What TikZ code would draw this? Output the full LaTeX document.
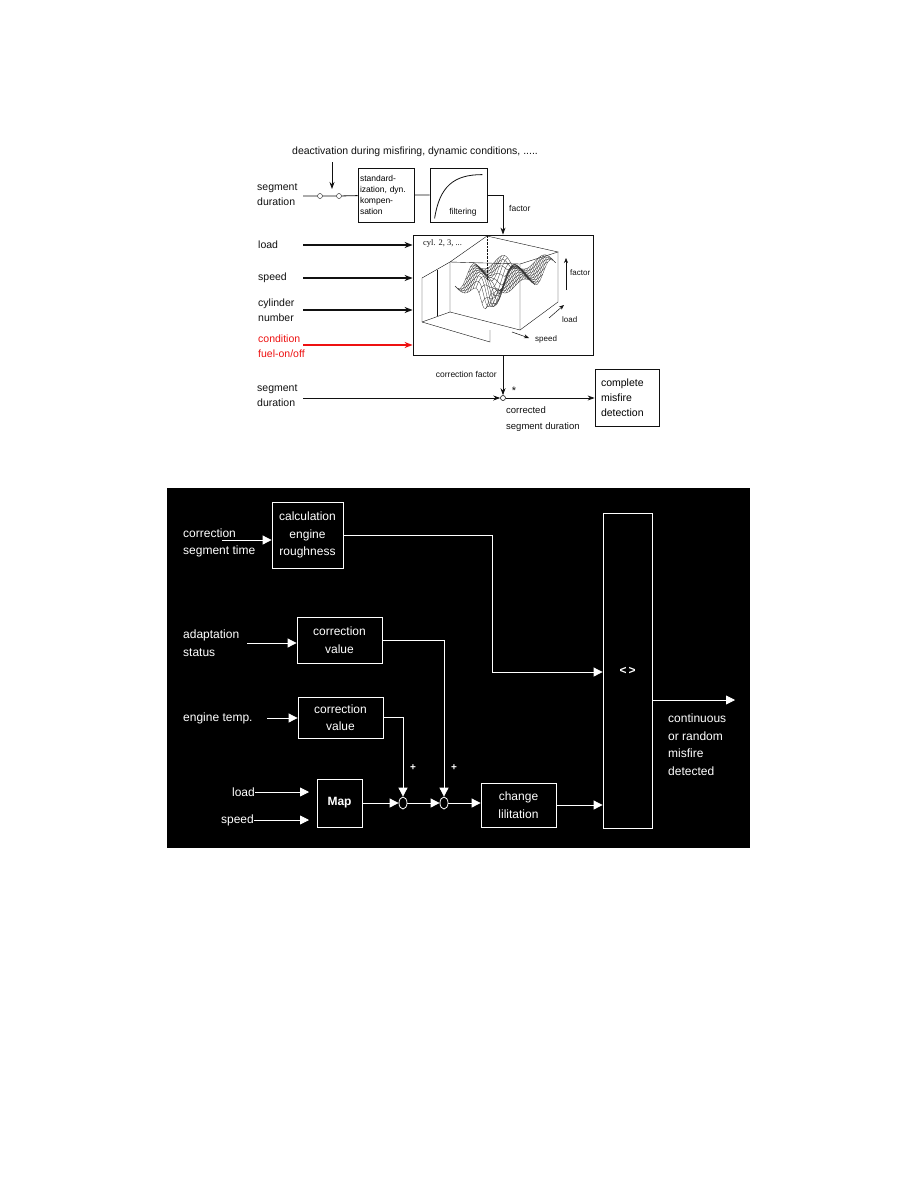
\documentclass[tikz,border=0pt]{standalone}
\usepackage{fontspec}
\setmainfont{Liberation Sans}
\newfontfamily\cylfont{Liberation Serif}
\usetikzlibrary{arrows.meta,positioning,calc,shapes.geometric}
\definecolor{ink}     {HTML}{111111}
\definecolor{condred} {HTML}{EE1111}
\definecolor{meshgray}{HTML}{333333}

\begin{document}
\begin{tikzpicture}[x=1pt,y=-1pt,font=\fontsize{10.5}{15}\selectfont,
    blk/.style={draw=ink,line width=0.8pt,inner sep=2pt},
    txt/.style={inner sep=0pt,align=left,text=ink},
    arr/.style={-{Stealth[length=7pt,width=5pt]},ink,line width=0.8pt},
    thickarr/.style={-{Stealth[length=8pt,width=6pt]},line width=1.5pt},
    wblk/.style={draw=white,line width=0.8pt,text=white,align=center,inner sep=0pt,
      font=\fontsize{12}{17.5}\selectfont},
    wtxt/.style={text=white,inner sep=0pt,align=left,font=\fontsize{12}{17.5}\selectfont},
    warr/.style={-{Triangle[length=9pt,width=9pt]},white,line width=0.8pt},
    sumpt/.style={ellipse,draw=white,line width=0.8pt,inner sep=0pt,minimum width=8,minimum height=12}]
  \useasboundingbox[fill=white] (0,0) rectangle (918,1188);

  % upper diagram
  \node[txt,anchor=west] (deact) at (292,152) {deactivation during misfiring, dynamic conditions, .....};
  \node[txt,anchor=west] (segdur) at (257,195) {segment\\duration};
  \coordinate (swin) at (303,196);
  \node[circle,draw=ink,inner sep=0pt,minimum size=5] (swa) at (320,196) {};
  \node[circle,draw=ink,inner sep=0pt,minimum size=5] (swb) at (339,196) {};
  \coordinate (swtop) at (332,162);
  \coordinate (swtip) at (332,189);
  \node[blk,minimum width=56,minimum height=54,text width=52,align=left,font=\fontsize{8.5}{11}\selectfont,inner sep=1.5pt] (stdz) at (386,195)
    {standard-\\ization, dyn.\\kompen-\\sation};
  \node[blk,minimum width=57,minimum height=54] (filt) at (458.5,195) {};
  \draw[ink,line width=0.8pt] ($(filt.south west)+(5,-4)$) .. controls ($(filt.south west)+(10,-36)$) and ($(filt.north west)+(24,7)$) .. ($(filt.north east)+(-5,7)$);
  \node[txt,font=\fontsize{8.5}{10}\selectfont] (filtlab) at (463,212) {filtering};
  \node[blk,minimum width=180,minimum height=120] (map) at (503,295) {};

  \draw[ink,line width=0.8pt] (swin) -- (swa) -- (swb) -- (stdz) -- (filt);
  \draw[arr] (swtop) -- (swtip);
  \draw[arr] (filt.east) -| (map.north);
  \node[txt,anchor=west,font=\fontsize{8.5}{10}\selectfont] (factlab) at (509,208) {factor};

  \node[txt,anchor=west] (ldlab) at (258,245) {load};
  \node[txt,anchor=west] (splab) at (258,278) {speed};
  \node[txt,anchor=west] (cyllab) at (258,310) {cylinder\\number};
  \node[txt,anchor=west,text=condred] (condlab) at (258,346) {condition\\fuel-on/off};
  \foreach \nm/\y/\col in {inld/245/ink,insp/278/ink,incyl/310/ink,incond/345/condred} {
    \coordinate (\nm) at (303,\y);
    \draw[thickarr,\col] (\nm) -- (\nm -| map.west);
  }

  % map picture
  \node[txt,anchor=west,font=\cylfont\fontsize{8.5}{10}\selectfont] (cyl) at (423,243) {cyl. 2, 3, ...};
  \begin{scope}[ink,line width=0.4pt]
    \draw (422,278) -- (450,262) -- (520,264) -- (558,252) -- (487,236) -- (450,262);
    \draw (422,278) -- (422,322) -- (490,342) -- (490,330);
    \draw (450,262) -- (450,312) -- (520,330) -- (520,264);
    \draw (558,252) -- (558,302) -- (520,330);
    \draw (422,322) -- (450,312);
    \draw (437,270) -- (437,316);
    \draw[densely dotted] (487,236) -- (487,280);
  \end{scope}
  \foreach \k in {0,...,11} {
    \draw[meshgray,line width=0.3pt] plot[domain=0:72,samples=36,smooth]
      ({455+\x+2.6*\k},{286-2.2*\k+7*sin(9*\x+40*\k)+30*exp(-((\x-30)/6)^2)*(1-\k/14)});
  }
  \foreach \j in {0,3,...,72} {
    \draw[meshgray,line width=0.3pt] plot[domain=0:11,samples=12]
      ({455+\j+2.6*\x},{286-2.2*\x+7*sin(9*\j+40*\x)+30*exp(-((\j-30)/6)^2)*(1-\x/14)});
  }
  \draw[-{Stealth[length=5pt,width=4pt]},ink,line width=0.5pt] (566,290) -- (566,258);
  \node[txt,anchor=west,font=\fontsize{8}{10}\selectfont] (flab) at (570,273) {factor};
  \draw[-{Stealth[length=5pt,width=4pt]},ink,line width=0.5pt] (549,318) -- (564,305);
  \node[txt,anchor=west,font=\fontsize{8}{10}\selectfont] (llab) at (562,320) {load};
  \draw[-{Stealth[length=5pt,width=4pt]},ink,line width=0.5pt] (512,332) -- (529,338);
  \node[txt,anchor=west,font=\fontsize{8}{10}\selectfont] (slab) at (535,339) {speed};

  \node[circle,draw=ink,line width=0.6pt,inner sep=0pt,minimum size=5] (sum) at (503,398) {};
  \node[txt,anchor=east,font=\fontsize{8.5}{10}\selectfont] (corrfac) at (497,374) {correction factor};
  \node[txt,font=\fontsize{11}{12}\selectfont] (star) at (514,391) {*};
  \draw[arr] (map.south) -- (sum);
  \node[txt,anchor=west] (segdur2) at (257,396) {segment\\duration};
  \coordinate (segin) at (303,398);
  \draw[arr] (segin) -- (sum.west);
  \node[blk,minimum width=64,minimum height=57,text width=52,align=left,inner sep=3pt] (compl) at (627,397.5) {complete\\misfire\\detection};
  \draw[arr] (sum.east) -- (compl.west |- sum);
  \node[txt,anchor=west,font=\fontsize{9.5}{15.5}\selectfont] (corrseg) at (506,419) {corrected\\segment duration};

  % lower diagram
  \fill[black] (167,488) rectangle (750,848);
  \node[wtxt,anchor=west] (cstlab) at (183,543) {correction\\segment time};
  \coordinate (cstin) at (222,540);
  \node[wblk,minimum width=71,minimum height=66] (calc) at (307.5,535) {calculation\\engine\\roughness};
  \draw[warr] (cstin) -- (cstin -| calc.west);

  \node[wblk,minimum width=49,minimum height=315] (cmp) at (627.5,670.5) {\textbf{<\,>}};
  \coordinate (bendr) at (492,672);
  \draw[warr] (calc.east) -| (bendr) -- (bendr -| cmp.west);

  \node[wtxt,anchor=west] (adlab) at (183,643) {adaptation\\status};
  \coordinate (adin) at (247,643);
  \node[wblk,minimum width=85,minimum height=46] (cvala) at (339.5,640) {correction\\value};
  \draw[warr] (adin) -- (adin -| cvala.west);

  \node[wtxt,anchor=west] (etlab) at (183,718) {engine temp.};
  \coordinate (etin) at (267,718);
  \node[wblk,minimum width=85,minimum height=41] (cvalb) at (340.5,717.5) {correction\\value};
  \draw[warr] (etin) -- (etin -| cvalb.west);

  \node[wblk,minimum width=45,minimum height=48,font=\bfseries\fontsize{12}{17.5}\selectfont] (mapb) at (339.5,803) {Map};
  \node[wtxt,anchor=east] (ldlabb) at (255,792) {load};
  \node[wtxt,anchor=east] (splabb) at (254,820) {speed};
  \coordinate (ldend) at (309,792);
  \coordinate (spend) at (309,820);
  \draw[warr] (ldlabb.east) -- (ldend);
  \draw[warr] (splabb.east) -- (spend);

  \node[sumpt] (suma) at (403,803) {};
  \node[sumpt] (sumb) at (444,803) {};
  \node[wblk,minimum width=75,minimum height=44] (chg) at (518.5,805) {change\\lilitation};
  \draw[warr] (mapb.east) -- (suma.west);
  \draw[warr] (suma.east) -- (sumb.west);
  \draw[warr] (sumb.east) -- (sumb.east -| chg.west);
  \draw[warr] (cvalb.east) -| (suma.north);
  \draw[warr] (cvala.east) -| (sumb.north);
  \node[wtxt,font=\bfseries\fontsize{10}{12}\selectfont] (plusa) at (413,768) {+};
  \node[wtxt,font=\bfseries\fontsize{10}{12}\selectfont] (plusb) at (454,768) {+};
  \draw[warr] (chg.east) -- (chg.east -| cmp.west);

  \coordinate (outend) at (735,700);
  \draw[warr] (cmp.east |- outend) -- (outend);
  \node[wtxt,anchor=north west] (outlab) at (668,714) {continuous\\or random\\misfire\\detected};
\end{tikzpicture}
\end{document}
